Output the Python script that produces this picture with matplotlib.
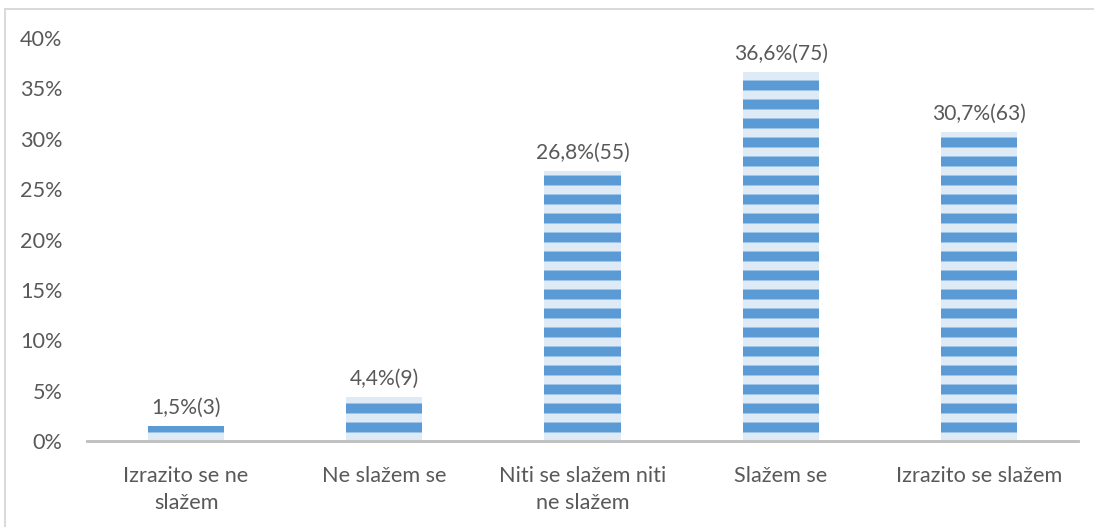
import matplotlib
matplotlib.use('Agg')
import matplotlib.pyplot as plt
from matplotlib.lines import Line2D
import numpy as np

# answers (share of respondents, %) and counts
categories = ['Izrazito se ne\nslažem', 'Ne slažem se', 'Niti se slažem niti\nne slažem',
              'Slažem se', 'Izrazito se slažem']
percent = [1.5, 4.4, 26.8, 36.6, 30.7]
counts = [3, 9, 55, 75, 63]
yticks = [0, 5, 10, 15, 20, 25, 30, 35, 40]

dark_blue = '#5B9BD5'
light_blue = '#DEEBF7'
text_col = '#595959'

DPI = 114  # hatch tile is 1 inch with 6 lines -> 19 px stripe period
plt.rcParams['font.family'] = ['Lato', 'DejaVu Sans']
plt.rcParams['hatch.linewidth'] = 6.3

fig = plt.figure(figsize=(1094 / DPI, 527 / DPI), dpi=DPI)
ax = fig.add_axes([87 / 1094, (527 - 441) / 527, (1078 - 87) / 1094, (441 - 38) / 527])

x = np.arange(len(categories))
bars = ax.bar(x, percent, width=0.385, facecolor=light_blue, edgecolor=dark_blue,
              linewidth=0, hatch='-')

for xi, p, c in zip(x, percent, counts):
    ax.annotate('{:.1f}%({})'.format(p, c).replace('.', ','), (xi, p),
                xytext=(0, 5), textcoords='offset points', ha='center', va='bottom',
                fontsize=13.3, color=text_col)

ax.set_xlim(-0.5, len(categories) - 0.5)
ax.set_ylim(0, 40)
ax.set_yticks(yticks)
ax.set_yticklabels(['{}%'.format(t) for t in yticks])
ax.set_xticks(x)
ax.set_xticklabels(categories, linespacing=1.4)
ax.tick_params(axis='both', length=0, labelsize=13.7, labelcolor=text_col)
ax.tick_params(axis='y', pad=15.5)
ax.tick_params(axis='x', pad=16)

for s in ['top', 'right', 'left']:
    ax.spines[s].set_visible(False)
ax.spines['bottom'].set_color('#BFBFBF')
ax.spines['bottom'].set_linewidth(1.8)

# light frame around the chart area
fig.add_artist(Line2D([5 / 1094, 1093 / 1094], [1 - 9 / 527, 1 - 9 / 527],
                      transform=fig.transFigure, color='#D9D9D9', lw=1.2))
fig.add_artist(Line2D([5 / 1094, 5 / 1094], [0, 1 - 9 / 527],
                      transform=fig.transFigure, color='#D9D9D9', lw=1.2))

fig.savefig('out.png', dpi=DPI)
